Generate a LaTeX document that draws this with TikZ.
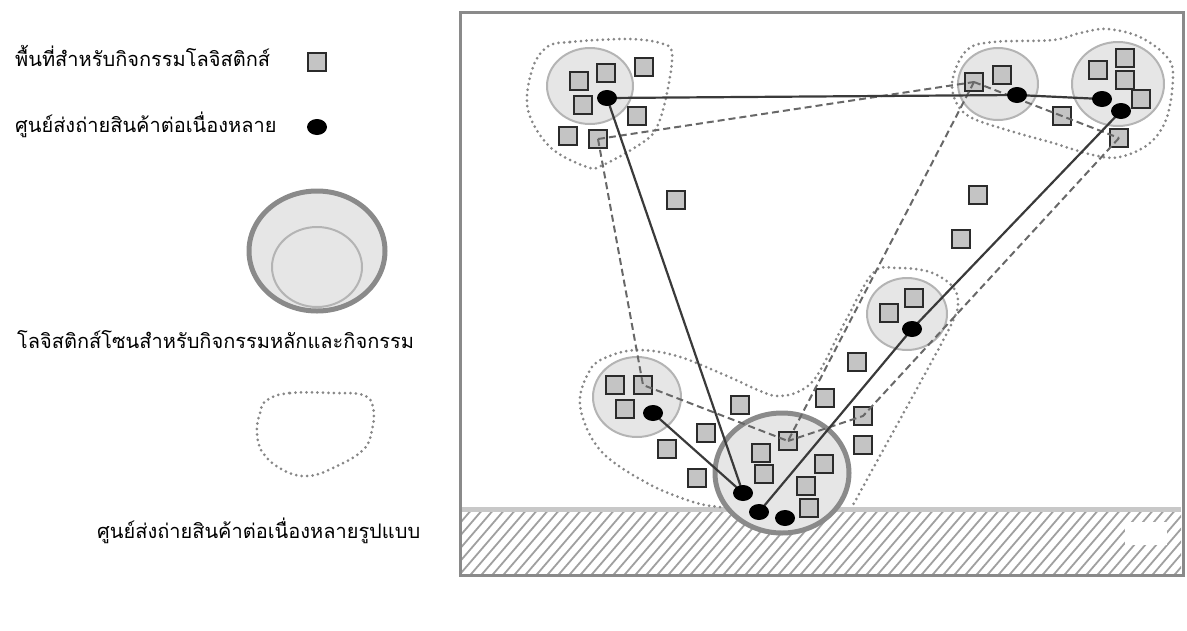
\documentclass[tikz,border=0pt]{standalone}
\usepackage{fontspec}
\newfontfamily\thaifont[Script=Thai]{Loma}
\usetikzlibrary{shapes.geometric}
\definecolor{sqfill}{HTML}{C4C4C4}
\definecolor{sqline}{HTML}{2B2B2B}
\definecolor{zonefill}{HTML}{E6E6E6}
\definecolor{zoneline}{HTML}{B4B4B4}
\definecolor{mainline}{HTML}{8A8A8A}
\definecolor{dotline}{HTML}{878787}
\definecolor{routecol}{HTML}{3A3A3A}
\definecolor{linkcol}{HTML}{686868}
\definecolor{framecol}{HTML}{8A8A8A}
\definecolor{groundcol}{HTML}{C8C8C8}
\definecolor{hatchcol}{HTML}{A0A0A0}
\pgfdeclarelayer{bg}
\pgfdeclarelayer{fg}
\pgfsetlayers{bg,main,fg}
\tikzset{
  sq/.style={rectangle, draw=sqline, fill=sqfill, line width=1.8pt, minimum size=18pt, inner sep=0pt},
  bdot/.style={ellipse, fill=black, minimum width=20pt, minimum height=16pt, inner sep=0pt},
  zone/.style={ellipse, draw=zoneline, fill=zonefill, line width=2pt, inner sep=0pt},
  mainzone/.style={ellipse, draw=mainline, fill=zonefill, line width=5pt, inner sep=0pt},
  blob/.style={draw=dotline, line width=3pt, line cap=round, dash pattern=on 0pt off 5.5pt},
  route/.style={draw=routecol, line width=2.2pt},
  link/.style={draw=linkcol, line width=2pt, dash pattern=on 7pt off 4pt},
  lbl/.style={font=\thaifont\fontsize{20}{24}\selectfont, anchor=base west, inner sep=0pt},
  hatchline/.style={draw=hatchcol, line width=1.8pt},
}
\begin{document}
\begin{tikzpicture}[x=1pt, y=-1pt]
\useasboundingbox (0,0) rectangle (1187,630);

% ---------- legend ----------
\node[lbl] (t1) at (15,66) {พื้นที่สำหรับกิจกรรมโลจิสติกส์};
\node[lbl] (t2) at (15,132) {ศูนย์ส่งถ่ายสินค้าต่อเนื่องหลาย};
\node[lbl] (t3) at (17,348) {โลจิสติกส์โซนสำหรับกิจกรรมหลักและกิจกรรม};
\node[lbl] (t4) at (97,538) {ศูนย์ส่งถ่ายสินค้าต่อเนื่องหลายรูปแบบ};
\node[sq] (ls) at (317,62) {};
\node[bdot] (ld) at (317,127) {};
\node[mainzone, minimum width=136pt, minimum height=120pt] (lo) at (317,251) {};
\node[zone, minimum width=90pt, minimum height=80pt] (li) at (317,267) {};
\draw[blob] plot[smooth cycle, tension=0.7] coordinates {(267,400) (290,393) (333,393) (363,395) (373,407) (372,430) (363,450) (333,468) (307,476) (283,470) (263,453) (257,433) (260,413)};

% ---------- background: frame, ground, zones, blobs ----------
\begin{pgfonlayer}{bg}
  \begin{scope}
    \clip (462,512) rectangle (1181,574);
    \foreach \i in {0,...,75} {
      \draw[hatchline] (400+\i*11,580) -- ++(62,-72);
    }
  \end{scope}
  \fill[white] (1125,522) rectangle (1167,545);
  \draw[groundcol, line width=5pt] (462,509) -- (1181,509);
  \draw[framecol, line width=3pt] (460,12) rectangle (1183,575);

  \draw[blob] plot[smooth cycle, tension=0.6] coordinates {(547,47) (570,42) (627,39) (660,43) (672,53) (667,93) (657,127) (642,143) (603,165) (587,167) (550,147) (528,110) (532,70)};
  \draw[blob] plot[smooth cycle, tension=0.6] coordinates {(955,100) (953,77) (967,50) (993,42) (1053,40) (1080,33) (1107,29) (1140,37) (1167,57) (1173,77) (1167,117) (1150,143) (1120,157) (1093,155) (1053,143) (1007,130) (970,117)};
  \draw[blob] plot[smooth, tension=0.6] coordinates {(720,507) (693,502) (647,483) (600,450) (580,405) (590,370) (607,357) (637,350) (677,356) (727,376) (760,391) (778,396) (800,391) (818,374) (845,322) (873,273) (897,268) (930,272) (953,287) (958,305) (950,327) (920,383) (887,443) (853,505)};

  \node[zone, minimum width=86pt, minimum height=76pt] (zA) at (590,86) {};
  \node[zone, minimum width=80pt, minimum height=72pt] (zB) at (998,84) {};
  \node[zone, minimum width=92pt, minimum height=84pt] (zC) at (1118,84) {};
  \node[zone, minimum width=80pt, minimum height=72pt] (zD) at (907,314) {};
  \node[zone, minimum width=88pt, minimum height=80pt] (zE) at (637,397) {};
  \node[mainzone, minimum width=134pt, minimum height=120pt] (zM) at (782,473) {};
\end{pgfonlayer}

% ---------- terminals (dots) ----------
\begin{pgfonlayer}{fg}
  \node[bdot] (dA) at (607,98) {};
  \node[bdot] (dB) at (1017,95) {};
  \node[bdot] (dC1) at (1102,99) {};
  \node[bdot] (dC2) at (1121,111) {};
  \node[bdot] (dD) at (912,329) {};
  \node[bdot] (dE) at (653,413) {};
  \node[bdot] (dM1) at (743,493) {};
  \node[bdot] (dM2) at (759,512) {};
  \node[bdot] (dM3) at (785,518) {};
\end{pgfonlayer}

% ---------- logistics areas (squares) ----------
\node[sq] (sA1) at (579,81) {};
\node[sq] (sA2) at (606,73) {};
\node[sq] (sA3) at (644,67) {};
\node[sq] (sA4) at (583,105) {};
\node[sq] (sA5) at (637,116) {};
\node[sq] (sA6) at (568,136) {};
\node[sq] (sA7) at (598,139) {};
\node[sq] (sA8) at (676,200) {};
\node[sq] (sB1) at (974,82) {};
\node[sq] (sB2) at (1002,75) {};
\node[sq] (sB3) at (1062,116) {};
\node[sq] (sC1) at (1125,58) {};
\node[sq] (sC2) at (1098,70) {};
\node[sq] (sC3) at (1125,80) {};
\node[sq] (sC4) at (1141,99) {};
\node[sq] (sC5) at (1119,138) {};
\node[sq] (sR1) at (978,195) {};
\node[sq] (sR2) at (961,239) {};
\node[sq] (sD1) at (889,313) {};
\node[sq] (sD2) at (914,298) {};
\node[sq] (sK1) at (857,362) {};
\node[sq] (sK2) at (825,398) {};
\node[sq] (sK3) at (863,416) {};
\node[sq] (sK4) at (863,445) {};
\node[sq] (sE1) at (615,385) {};
\node[sq] (sE2) at (643,385) {};
\node[sq] (sE3) at (625,409) {};
\node[sq] (sL1) at (667,449) {};
\node[sq] (sL2) at (697,478) {};
\node[sq] (sL3) at (706,433) {};
\node[sq] (sL4) at (740,405) {};
\node[sq] (sM1) at (788,441) {};
\node[sq] (sM2) at (761,453) {};
\node[sq] (sM3) at (764,474) {};
\node[sq] (sM4) at (824,464) {};
\node[sq] (sM5) at (806,486) {};
\node[sq] (sM6) at (809,508) {};

% ---------- dashed links ----------
\draw[link] (sA7.center) -- (sB1.center);
\draw[link] (sB1.center) -- (sB3.center) -- (sC5.center);
\draw[link] (sC5.center) -- (sK3.center) -- (sM1.center);
\draw[link] (sA7.center) -- (sE2.center) -- (sM1.center);
\draw[link] (sB1.center) -- (sM1.center);

% ---------- solid routes ----------
\draw[route] (dA.center) -- (dB.center) -- (dC1.center);
\draw[route] (dA.center) -- (dM1.center);
\draw[route] (dE.center) -- (dM1.center);
\draw[route] (dM2.center) -- (dD.center) -- (dC2.center);
\end{tikzpicture}
\end{document}
